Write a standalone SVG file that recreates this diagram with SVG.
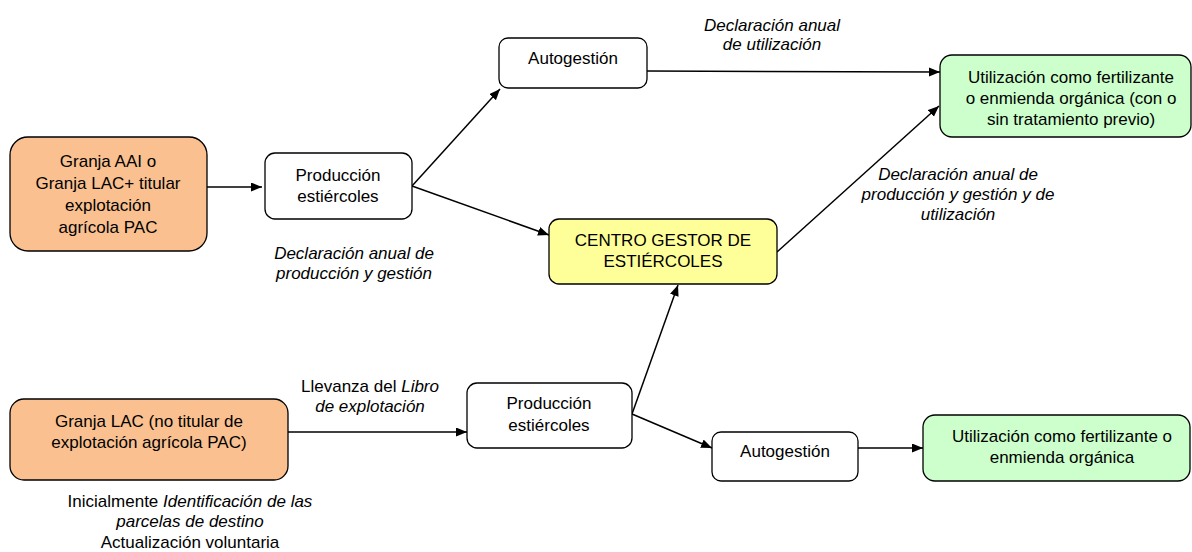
<svg xmlns="http://www.w3.org/2000/svg" width="1192" height="552" viewBox="0 0 1192 552">
<style>
  text { font-family: "Liberation Sans", Arial, sans-serif; font-size: 17px; fill: #000; text-anchor: middle; }
  .it { font-style: italic; }
  .box { stroke: #000; stroke-width: 1.3; }
  .white { fill: #fff; }
  .orange { fill: #FAC090; }
  .green { fill: #CCFFCC; }
  .yellow { fill: #FFFF99; }
  .conn line { stroke: #000; stroke-width: 1.5; marker-end: url(#arr); }
</style>
<defs>
  <marker id="arr" markerUnits="userSpaceOnUse" markerWidth="12" markerHeight="10" refX="11" refY="4.5" orient="auto">
    <path d="M0,0 L11,4.5 L0,9 z" fill="#000"/>
  </marker>
</defs>
<rect width="1192" height="552" fill="#fff"/>

<g id="connectors" class="conn">
  <line x1="207" y1="187" x2="262" y2="187"/>
  <line x1="412" y1="186" x2="500" y2="89"/>
  <line x1="412" y1="186" x2="549" y2="235"/>
  <line x1="647" y1="71" x2="940" y2="72"/>
  <line x1="777" y1="252" x2="939" y2="106"/>
  <line x1="288" y1="432" x2="467" y2="432"/>
  <line x1="632" y1="414" x2="678" y2="285"/>
  <line x1="632" y1="414" x2="712" y2="448"/>
  <line x1="858" y1="448" x2="923" y2="448"/>
</g>

<g id="granja-aai">
  <rect class="box orange" x="10" y="137" width="197" height="114" rx="18"/>
  <text x="108" y="167">Granja AAI o</text>
  <text x="108" y="189">Granja LAC+ titular</text>
  <text x="108" y="211">explotación</text>
  <text x="108" y="233">agrícola PAC</text>
</g>

<g id="produccion-1">
  <rect class="box white" x="265" y="153" width="147" height="66" rx="10"/>
  <text x="338" y="181">Producción</text>
  <text x="338" y="202">estiércoles</text>
</g>

<g id="autogestion-1">
  <rect class="box white" x="499" y="38" width="148" height="50" rx="9"/>
  <text x="573" y="64">Autogestión</text>
</g>

<g id="utilizacion-1">
  <rect class="box green" x="940" y="55" width="251" height="82" rx="12"/>
  <text x="1071" y="83">Utilización como fertilizante</text>
  <text x="1071" y="104">o enmienda orgánica (con o</text>
  <text x="1071" y="125">sin tratamiento previo)</text>
</g>

<g id="centro-gestor">
  <rect class="box yellow" x="549" y="219" width="228" height="65" rx="10"/>
  <text x="663" y="246">CENTRO GESTOR DE</text>
  <text x="663" y="267">ESTIÉRCOLES</text>
</g>

<g id="granja-lac">
  <rect class="box orange" x="10" y="399" width="278" height="81" rx="14"/>
  <text x="149" y="427">Granja LAC (no titular de</text>
  <text x="149" y="448">explotación agrícola PAC)</text>
</g>

<g id="produccion-2">
  <rect class="box white" x="467" y="383" width="165" height="65" rx="10"/>
  <text x="549" y="409">Producción</text>
  <text x="549" y="431">estiércoles</text>
</g>

<g id="autogestion-2">
  <rect class="box white" x="712" y="432" width="146" height="49" rx="9"/>
  <text x="785" y="457">Autogestión</text>
</g>

<g id="utilizacion-2">
  <rect class="box green" x="923" y="415" width="267" height="66" rx="12"/>
  <text x="1062" y="442">Utilización como fertilizante o</text>
  <text x="1062" y="463">enmienda orgánica</text>
</g>

<g id="labels">
  <text class="it" x="772" y="31">Declaración anual</text>
  <text class="it" x="772" y="50">de utilización</text>
  <text class="it" x="958" y="180">Declaración anual de</text>
  <text class="it" x="958" y="200">producción y gestión y de</text>
  <text class="it" x="958" y="220">utilización</text>
  <text class="it" x="354" y="259">Declaración anual de</text>
  <text class="it" x="354" y="279">producción y gestión</text>
  <text x="370" y="392">Llevanza del <tspan class="it" font-style="italic">Libro</tspan></text>
  <text class="it" x="370" y="412">de explotación</text>
  <text x="190" y="507">Inicialmente <tspan font-style="italic">Identificación de las</tspan></text>
  <text class="it" x="190" y="527">parcelas de destino</text>
  <text x="190" y="548">Actualización voluntaria</text>
</g>
</svg>
